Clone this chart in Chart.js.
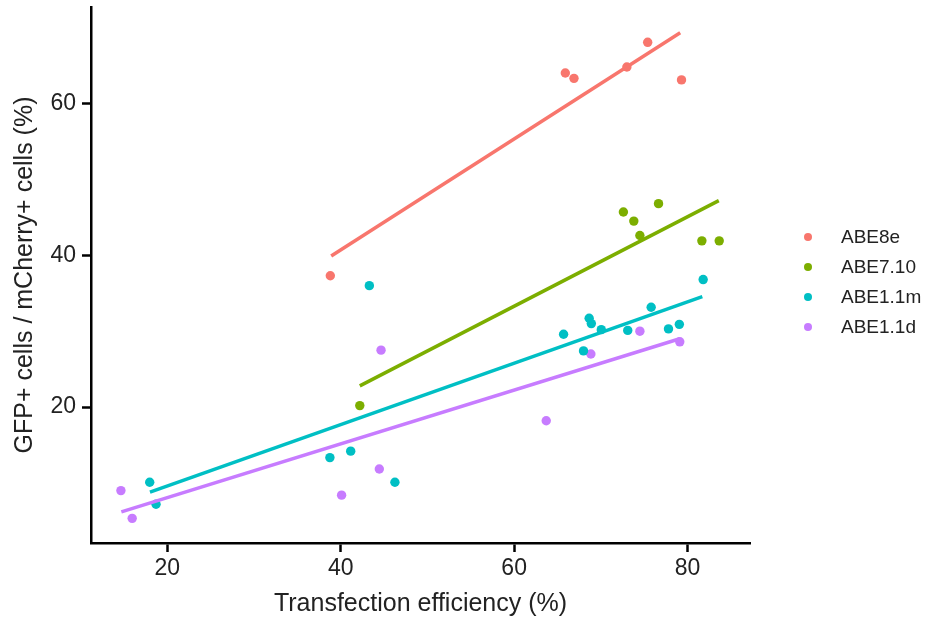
<!DOCTYPE html>
<html>
<head>
<meta charset="utf-8">
<script src="https://cdn.jsdelivr.net/npm/chart.js@4.4.1/dist/chart.umd.min.js"></script>
<style>
    html, body { margin: 0; padding: 0; background: #fff; }
    #wrap { position: relative; width: 929px; height: 621px; }
    #legend { position: absolute; left: 0; top: 0; font-family: "Liberation Sans", Arial, sans-serif; font-size: 19px; color: #222; }
    .legend-item { position: absolute; white-space: nowrap; }
    .legend-dot { position: absolute; width: 8px; height: 8px; border-radius: 50%; }
</style>
</head>
<body>
<div id="wrap">
    <canvas id="chart" width="929" height="621"></canvas>
    <div id="legend"></div>
</div>
<script>
// Series names and colours
const seriesNames = ['ABE8e', 'ABE7.10', 'ABE1.1m', 'ABE1.1d'];
const seriesColors = ['#F8766D', '#7CAE00', '#00BFC4', '#C77CFF'];

// Observed points (transfection efficiency %, GFP+/mCherry+ %)
const abe8eX = [65.9, 66.9, 73.0, 75.4, 79.3, 38.8];
const abe8eY = [64.0, 63.3, 64.8, 68.05, 63.1, 37.3];

const abe710X = [72.6, 73.8, 76.65, 74.5, 81.65, 83.65, 42.2];
const abe710Y = [45.7, 44.5, 46.8, 42.6, 41.9, 41.9, 20.2];

const abe11mX = [43.3, 65.7, 68.65, 68.9, 70.05, 68.0, 73.1, 75.8, 77.8, 79.05, 81.8, 17.97, 18.7, 38.75, 41.15, 46.25];
const abe11mY = [36.0, 29.6, 31.7, 31.0, 30.2, 27.4, 30.1, 33.15, 30.3, 30.9, 36.8, 10.1, 7.2, 13.35, 14.2, 10.1];

const abe11dX = [14.65, 15.95, 40.1, 44.45, 44.65, 68.85, 74.5, 79.1, 63.7];
const abe11dY = [9.0, 5.35, 8.4, 11.85, 27.5, 27.0, 30.0, 28.6, 18.2];

// Fitted line end points
const fit8eX = [38.9, 79.15];
const fit8eY = [39.9, 69.3];
const fit710X = [42.2, 83.6];
const fit710Y = [22.8, 47.2];
const fit11mX = [18.0, 81.7];
const fit11mY = [8.8, 34.56];
const fit11dX = [14.7, 79.1];
const fit11dY = [6.2, 29.0];

// Axis ticks
const xTicks = [20, 40, 60, 80];
const yTicks = [20, 40, 60];

class ScatterFitChart {
    constructor() {
        this.pointsX = [abe8eX, abe710X, abe11mX, abe11dX];
        this.pointsY = [abe8eY, abe710Y, abe11mY, abe11dY];
        this.fitX = [fit8eX, fit710X, fit11mX, fit11dX];
        this.fitY = [fit8eY, fit710Y, fit11mY, fit11dY];
        this.font = '"Liberation Sans", Arial, sans-serif';
        this.init();
    }

    init() {
        this.createChart();
        this.renderLegend();
    }

    toXY(xs, ys) {
        return xs.map((x, i) => ({ x: x, y: ys[i] }));
    }

    buildDatasets() {
        const datasets = [];

        // Fit lines first so the dots sit on top
        seriesNames.forEach((name, i) => {
            datasets.push({
                label: name + ' fit',
                data: this.toXY(this.fitX[i], this.fitY[i]),
                showLine: true,
                borderColor: seriesColors[i],
                borderWidth: 3.5,
                pointRadius: 0,
                fill: false
            });
        });

        seriesNames.forEach((name, i) => {
            datasets.push({
                label: name,
                data: this.toXY(this.pointsX[i], this.pointsY[i]),
                backgroundColor: seriesColors[i],
                borderWidth: 0,
                pointRadius: 4.7
            });
        });

        return datasets;
    }

    createChart() {
        const ctx = document.getElementById('chart');
        const axisColor = '#000';
        const textColor = '#222';

        new Chart(ctx, {
            type: 'scatter',
            data: { datasets: this.buildDatasets() },
            options: {
                responsive: false,
                animation: false,
                layout: { padding: { left: 0, right: 179, top: 7, bottom: 0 } },
                plugins: {
                    legend: { display: false },
                    tooltip: { enabled: false }
                },
                scales: {
                    x: {
                        type: 'linear',
                        min: 11.2,
                        max: 87.2,
                        afterBuildTicks: (scale) => {
                            scale.ticks = xTicks.map(v => ({ value: v }));
                        },
                        afterFit: (scale) => {
                            scale.height = 78;
                            scale.paddingLeft = 0;
                            scale.paddingRight = 0;
                        },
                        border: { display: true, color: axisColor, width: 2.5 },
                        grid: {
                            drawOnChartArea: false,
                            drawTicks: true,
                            tickLength: 9,
                            tickWidth: 2.5,
                            tickColor: axisColor
                        },
                        ticks: {
                            color: textColor,
                            padding: 3,
                            font: { family: this.font, size: 23 }
                        },
                        title: {
                            display: true,
                            text: 'Transfection efficiency (%)',
                            color: textColor,
                            padding: { top: 0, bottom: 2 },
                            font: { family: this.font, size: 25 }
                        }
                    },
                    y: {
                        type: 'linear',
                        min: 2.1,
                        max: 72.7,
                        afterBuildTicks: (scale) => {
                            scale.ticks = yTicks.map(v => ({ value: v }));
                        },
                        afterFit: (scale) => {
                            scale.width = 91;
                            scale.paddingTop = 0;
                            scale.paddingBottom = 0;
                        },
                        border: { display: true, color: axisColor, width: 2.5 },
                        grid: {
                            drawOnChartArea: false,
                            drawTicks: true,
                            tickLength: 9,
                            tickWidth: 2.5,
                            tickColor: axisColor
                        },
                        ticks: {
                            color: textColor,
                            padding: 6,
                            font: { family: this.font, size: 23 }
                        },
                        title: {
                            display: true,
                            text: 'GFP+ cells / mCherry+ cells (%)',
                            color: textColor,
                            padding: { top: 10, bottom: 0 },
                            font: { family: this.font, size: 25 }
                        }
                    }
                }
            }
        });
    }

    renderLegend() {
        const container = document.getElementById('legend');
        const firstY = 237;
        const stepY = 30;

        seriesNames.forEach((name, i) => {
            const cy = firstY + i * stepY;

            const dot = document.createElement('div');
            dot.className = 'legend-dot';
            dot.style.background = seriesColors[i];
            dot.style.left = (808 - 4) + 'px';
            dot.style.top = (cy - 4) + 'px';
            container.appendChild(dot);

            const label = document.createElement('div');
            label.className = 'legend-item';
            label.textContent = name;
            label.style.left = '841px';
            label.style.top = (cy - 11) + 'px';
            label.style.lineHeight = '22px';
            container.appendChild(label);
        });
    }
}

document.addEventListener('DOMContentLoaded', () => {
    new ScatterFitChart();
});
</script>
</body>
</html>
